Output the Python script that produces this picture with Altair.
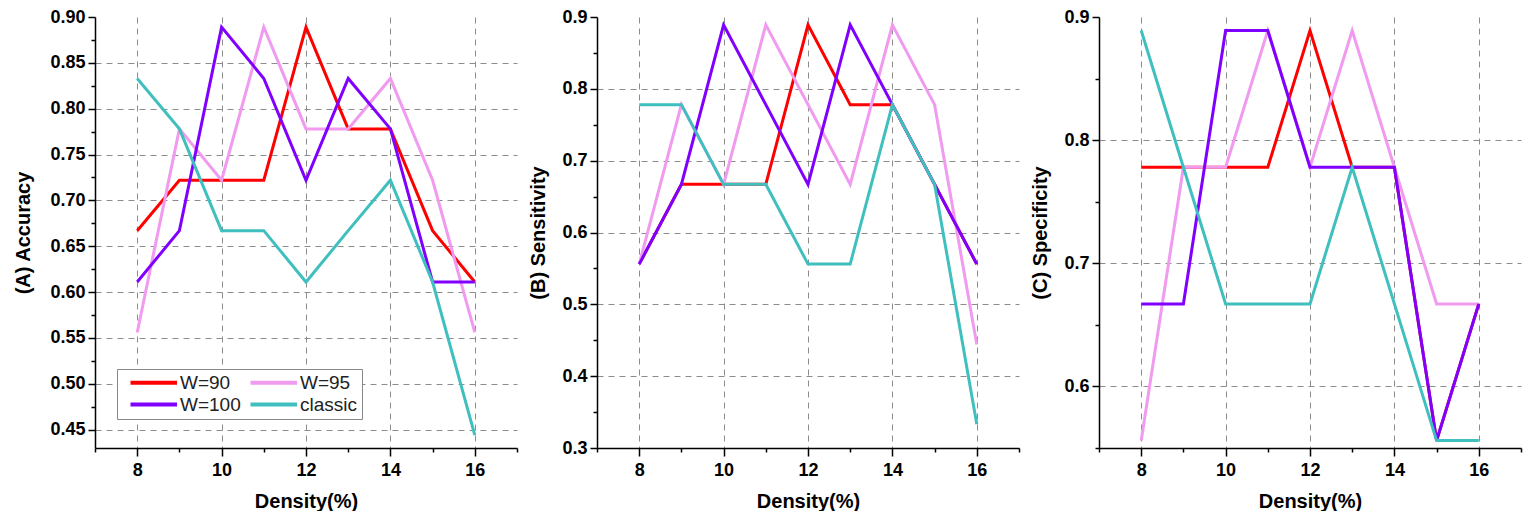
import altair as alt
import pandas as pd

density = [8, 9, 10, 11, 12, 13, 14, 15, 16]
series = ["W=90", "W=95", "W=100", "classic"]
colors = ["#FF0000", "#F09AF0", "#8000FF", "#40BFBF"]

# (A) Accuracy
acc_w90 = [0.667, 0.722, 0.722, 0.722, 0.889, 0.778, 0.778, 0.667, 0.611]
acc_w95 = [0.556, 0.778, 0.722, 0.889, 0.778, 0.778, 0.833, 0.722, 0.556]
acc_w100 = [0.611, 0.667, 0.889, 0.833, 0.722, 0.833, 0.778, 0.611, 0.611]
acc_classic = [0.833, 0.778, 0.667, 0.667, 0.611, 0.667, 0.722, 0.611, 0.444]

# (B) Sensitivity
sen_w90 = [0.556, 0.667, 0.667, 0.667, 0.889, 0.778, 0.778, 0.667, 0.556]
sen_w95 = [0.556, 0.778, 0.667, 0.889, 0.778, 0.667, 0.889, 0.778, 0.444]
sen_w100 = [0.556, 0.667, 0.889, 0.778, 0.667, 0.889, 0.778, 0.667, 0.556]
sen_classic = [0.778, 0.778, 0.667, 0.667, 0.556, 0.556, 0.778, 0.667, 0.333]

# (C) Specificity
spe_w90 = [0.778, 0.778, 0.778, 0.778, 0.889, 0.778, 0.778, 0.556, 0.667]
spe_w95 = [0.556, 0.778, 0.778, 0.889, 0.778, 0.889, 0.778, 0.667, 0.667]
spe_w100 = [0.667, 0.667, 0.889, 0.889, 0.778, 0.778, 0.778, 0.556, 0.667]
spe_classic = [0.889, 0.778, 0.667, 0.667, 0.667, 0.778, 0.667, 0.556, 0.556]

x_ticks = list(range(7, 18))
acc_ticks = [round(0.45 + 0.025 * i, 3) for i in range(19)]
sen_ticks = [round(0.30 + 0.05 * i, 2) for i in range(13)]
spe_ticks = [round(0.55 + 0.05 * i, 2) for i in range(8)]

FONT = "Liberation Sans"


def frame(vals_list):
    rows = []
    for name, vals in zip(series, vals_list):
        for d, v in zip(density, vals):
            rows.append({"Density": d, "Value": v, "Series": name})
    return pd.DataFrame(rows)


def panel(df, ytitle, domain, ticks, step, fmt, extent, legend):
    major = f"abs(datum.value/{step} - round(datum.value/{step})) < 0.001"
    ymax = domain[1]
    yaxis = alt.Axis(
        title=ytitle,
        values=ticks,
        labelExpr=f"({major}) ? format(datum.value, '{fmt}') : ''",
        tickSize={"condition": {"test": major, "value": 7}, "value": 4},
        gridOpacity={"condition": {"test": f"({major}) && datum.value < {ymax - 0.001}", "value": 1}, "value": 0},
        minExtent=extent,
        maxExtent=extent,
        titlePadding=6,
        labelPadding=3,
    )
    xmajor = "datum.value % 2 == 0 && datum.value >= 8 && datum.value <= 16"
    xaxis = alt.Axis(
        title="Density(%)",
        values=x_ticks,
        labelExpr=f"({xmajor}) ? format(datum.value, 'd') : ''",
        tickSize={"condition": {"test": xmajor, "value": 8}, "value": 4},
        gridOpacity={"condition": {"test": xmajor, "value": 1}, "value": 0},
        labelPadding=5,
        titlePadding=12,
    )
    if legend:
        leg = alt.Legend(
            orient="none", legendX=22, legendY=352, columns=2, direction="horizontal",
            title=None,
            symbolType="M0,0H6.2", symbolSize=225, symbolStrokeWidth=4,
            labelFontSize=19, labelFont=FONT, labelColor="#222",
            padding=4, strokeColor="#888", fillColor="white",
            columnPadding=0, rowPadding=2, labelOffset=40,
        )
    else:
        leg = None
    return alt.Chart(df).mark_line(strokeWidth=3).encode(
        x=alt.X("Density:Q", scale=alt.Scale(domain=[7, 17], nice=False, zero=False), axis=xaxis),
        y=alt.Y("Value:Q", scale=alt.Scale(domain=domain, nice=False, zero=False), axis=yaxis),
        color=alt.Color("Series:N", scale=alt.Scale(domain=series, range=colors), legend=leg),
        detail="Series:N",
    ).properties(width=422, height=431)


pa = panel(frame([acc_w90, acc_w95, acc_w100, acc_classic]), "(A) Accuracy",
           [0.43, 0.90], acc_ticks, 0.05, ".2f", 56, True)
pb = panel(frame([sen_w90, sen_w95, sen_w100, sen_classic]), "(B) Sensitivity",
           [0.30, 0.90], sen_ticks, 0.1, ".1f", 43, False)
pc = panel(frame([spe_w90, spe_w95, spe_w100, spe_classic]), "(C) Specificity",
           [0.55, 0.90], spe_ticks, 0.1, ".1f", 43, False)

chart = alt.hconcat(pa, pb, pc, spacing=10).resolve_scale(color="independent").properties(
    padding={"left": 5, "top": 0, "right": 5, "bottom": 0}
).configure_view(stroke=None).configure_axis(
    domainColor="black", domainWidth=1.5, tickColor="black", tickWidth=1.5,
    labelFont=FONT, labelFontWeight="bold", labelFontSize=18, labelColor="black",
    titleFont=FONT, titleFontWeight="bold", titleFontSize=20, titleColor="black",
    gridColor="#8c8c8c", gridDash=[6, 5], gridWidth=1,
)

chart.save("out.html", embed_options={"renderer": "svg", "actions": False})
